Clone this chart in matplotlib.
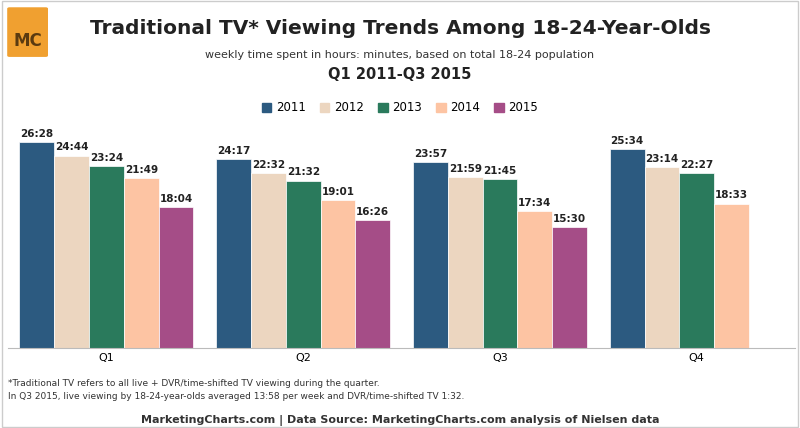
import numpy as np
import matplotlib.pyplot as plt
from matplotlib.patches import FancyBboxPatch

quarters = ['Q1', 'Q2', 'Q3', 'Q4']
years = ['2011', '2012', '2013', '2014', '2015']
labels = {
    '2011': ['26:28', '24:17', '23:57', '25:34'],
    '2012': ['24:44', '22:32', '21:59', '23:14'],
    '2013': ['23:24', '21:32', '21:45', '22:27'],
    '2014': ['21:49', '19:01', '17:34', '18:33'],
    '2015': ['18:04', '16:26', '15:30', None],
}
colors = ['#2c5a80', '#ecd6c0', '#2a7a5c', '#fdc4a3', '#a54d87']


def to_min(s):
    h, m = s.split(':')
    return int(h) * 60 + int(m)


fig = plt.figure(figsize=(8, 4.28), dpi=100)
ax = fig.add_axes([0.01, 0.187, 0.984, 0.545])
w = 0.177
for qi in range(4):
    for k, y in enumerate(years):
        if labels[y][qi] is None:
            continue
        x = qi + (k - 2) * w
        v = to_min(labels[y][qi])
        ax.bar(x, v, w, color=colors[k], edgecolor='white', linewidth=0.5)
        ax.text(x, v + 25, labels[y][qi], ha='center', va='bottom', fontsize=7.5,
                fontweight='bold', color='#222222')
ax.set_xlim(-0.5, 3.5)
ax.set_ylim(0, 1800)
ax.set_yticks([])
ax.set_xticks(range(4))
ax.set_xticklabels(quarters, fontsize=8)
ax.tick_params(axis='x', length=0)
for s in ['left', 'right', 'top']:
    ax.spines[s].set_visible(False)
ax.spines['bottom'].set_color('#bbbbbb')

handles = [plt.Rectangle((0, 0), 1, 1, color=c) for c in colors]
fig.legend(handles, years, loc='center', bbox_to_anchor=(0.5, 0.748), ncol=5,
           frameon=False, fontsize=8.5, handlelength=0.8, handleheight=0.8,
           columnspacing=1.2, handletextpad=0.4)

fig.text(0.5, 0.92, 'Traditional TV* Viewing Trends Among 18-24-Year-Olds',
         ha='center', fontsize=14.5, fontweight='bold', color='#222222')
fig.text(0.5, 0.865, 'weekly time spent in hours: minutes, based on total 18-24 population',
         ha='center', fontsize=8, color='#333333')
fig.text(0.5, 0.815, 'Q1 2011-Q3 2015', ha='center', fontsize=10.5, fontweight='bold',
         color='#222222')
fig.text(0.01, 0.098, '*Traditional TV refers to all live + DVR/time-shifted TV viewing during the quarter.',
         fontsize=6.5, color='#333333')
fig.text(0.01, 0.068, 'In Q3 2015, live viewing by 18-24-year-olds averaged 13:58 per week and DVR/time-shifted TV 1:32.',
         fontsize=6.5, color='#333333')
fig.text(0.5, 0.012, 'MarketingCharts.com | Data Source: MarketingCharts.com analysis of Nielsen data',
         ha='center', fontsize=8, fontweight='bold', color='#333333')

logo = FancyBboxPatch((0.012, 0.87), 0.045, 0.11, boxstyle='round,pad=0.003',
                      transform=fig.transFigure, facecolor='#f0a030', edgecolor='none')
fig.patches.append(logo)
fig.text(0.0345, 0.905, 'MC', ha='center', va='center', fontsize=12, fontweight='bold',
         color='#5a3a10')
fig.patches.append(plt.Rectangle((0.002, 0.002), 0.996, 0.996, transform=fig.transFigure,
                                 fill=False, edgecolor='#cccccc', linewidth=1))
fig.savefig('out.png', dpi=100)
